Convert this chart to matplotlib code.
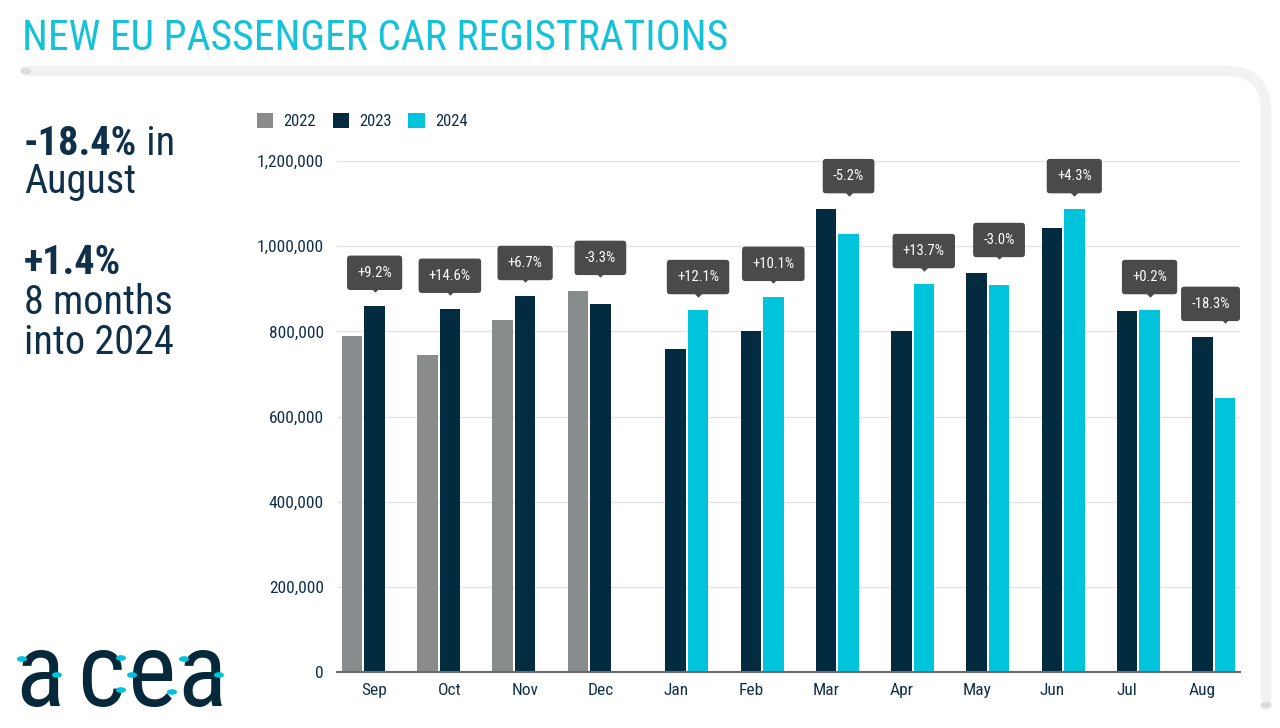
import numpy as np
import matplotlib
matplotlib.use("Agg")
import matplotlib.pyplot as plt
from matplotlib import font_manager
from matplotlib.patches import Patch, PathPatch, Circle
from matplotlib.path import Path
from matplotlib.transforms import offset_copy

# chart data
months = ['Sep', 'Oct', 'Nov', 'Dec', 'Jan', 'Feb', 'Mar', 'Apr', 'May', 'Jun', 'Jul', 'Aug']
reg_2022 = [789000, 744000, 827000, 895000] + [np.nan] * 8
reg_2023 = [860000, 853000, 883000, 864000, 759000, 801000,
            1087000, 801000, 937000, 1043000, 848000, 787000]
reg_2024 = [np.nan] * 4 + [850000, 881000, 1029000, 911000, 909000, 1087000, 850000, 643000]
changes = ['+9.2%', '+14.6%', '+6.7%', '-3.3%', '+12.1%', '+10.1%',
           '-5.2%', '+13.7%', '-3.0%', '+4.3%', '+0.2%', '-18.3%']
yticks = [0, 200000, 400000, 600000, 800000, 1000000, 1200000]
years = ['2022', '2023', '2024']

# colours
GREY = '#898c8d'
NAVY = '#022b3f'
CYAN = '#00c4dc'
TEXT = '#10304a'
BOX = '#4a4a4a'

_names = {f.name for f in font_manager.fontManager.ttflist}
FONT = 'Roboto Condensed' if 'Roboto Condensed' in _names else 'Roboto'
plt.rcParams['font.family'] = [FONT, 'DejaVu Sans']

W, H = 1280, 728
fig = plt.figure(figsize=(W / 100, H / 100), dpi=100)


def fx(px):
    return px / W


def fy(py):
    return 1 - py / H


# frame decoration
verts = [(fx(26), fy(71)), (fx(1226), fy(71)), (fx(1266), fy(71)), (fx(1266), fy(111)), (fx(1266), fy(705))]
codes = [Path.MOVETO, Path.LINETO, Path.CURVE3, Path.CURVE3, Path.LINETO]
fig.patches.append(PathPatch(Path(verts, codes), transform=fig.transFigure, fill=False,
                             ec='#f2f2f2', lw=7.5, capstyle='round', zorder=0))
for (px, py) in [(26, 71), (1266, 705)]:
    fig.patches.append(Circle((fx(px), fy(py)), 5.5 / W, transform=fig.transFigure,
                              fc='#dcdcdc', ec='none', zorder=1))

# title
fig.text(fx(22), fy(50), 'NEW EU PASSENGER CAR REGISTRATIONS', color='#14c2da',
         fontsize=30, fontweight='normal', ha='left', va='baseline')

# left side key figures
KF = 29
t = fig.text(fx(24), fy(155), '-18.4%', color=TEXT, fontsize=KF, fontweight='bold', va='baseline')
fig.canvas.draw()
x_end = t.get_window_extent().x1
fig.text(x_end / W, fy(155), ' in', color=TEXT, fontsize=KF, va='baseline')
fig.text(fx(24), fy(193), 'August', color=TEXT, fontsize=KF, va='baseline')
fig.text(fx(24), fy(274), '+1.4%', color=TEXT, fontsize=KF, fontweight='bold', va='baseline')
fig.text(fx(24), fy(314), '8 months', color=TEXT, fontsize=KF, va='baseline')
fig.text(fx(24), fy(354), 'into 2024', color=TEXT, fontsize=KF, va='baseline')

# logo
for ch, cx in zip('acea', [40, 101, 152, 202]):
    fig.text(fx(cx), fy(727), ch, color='#06283b', fontsize=74, fontweight='normal',
             ha='center', va='bottom')
dots = [(22, 659), (57, 675), (121, 658), (121, 690), (132, 675), (172, 692), (184, 659), (219, 675)]
for (px, py) in dots:
    fig.patches.append(Circle((fx(px), fy(py)), 5 / W, transform=fig.transFigure,
                              fc=CYAN, ec='none', zorder=5))

# chart
ax = fig.add_axes([fx(337), fy(672), fx(1240) - fx(337), fy(161) - fy(672)])
x = np.arange(len(months))
slot = 0.298
bw = 0.272
ax.bar(x - slot, reg_2022, bw, color=GREY, zorder=3)
ax.bar(x, reg_2023, bw, color=NAVY, zorder=3)
ax.bar(x + slot, reg_2024, bw, color=CYAN, zorder=3)

ax.set_xlim(-0.5, 11.5)
ax.set_ylim(0, 1200000)
ax.set_yticks(yticks)
ax.set_yticklabels([f'{v:,}' for v in yticks])
ax.set_xticks(x)
ax.set_xticklabels(months)
ax.tick_params(axis='both', length=0, labelsize=12.5, labelcolor=TEXT)
ax.tick_params(axis='y', pad=9.5)
ax.tick_params(axis='x', pad=8)
ax.grid(axis='y', color='#e4e4e4', lw=1, zorder=0)
ax.set_axisbelow(True)
for s in ['top', 'right', 'left']:
    ax.spines[s].set_visible(False)
ax.spines['bottom'].set_color('#6b6b6b')
ax.spines['bottom'].set_linewidth(1.5)
ax.spines['bottom'].set_zorder(4)

# change labels
tri = [(-1, 0), (1, 0), (0, -1), (-1, 0)]
notes = []
for i, lab in enumerate(changes):
    xpos = x[i] + slot if not np.isnan(reg_2024[i]) else x[i]
    top = np.nanmax([reg_2022[i], reg_2023[i], reg_2024[i]])
    tr = offset_copy(ax.transData, fig=fig, x=0, y=18.5, units='dots')
    ax.plot([xpos], [top], marker=tri, ms=7.5, color=BOX, mec='none', transform=tr, clip_on=False, zorder=6)
    a = ax.annotate(lab, xy=(xpos, top), xytext=(0, 33), textcoords='offset pixels',
                    ha='center', va='center', fontsize=10.5, color='white', zorder=7,
                    bbox=dict(boxstyle='round,pad=0.7,rounding_size=0.22', fc=BOX, ec='none'))
    notes.append(a)

fig.canvas.draw()
right = ax.get_window_extent().x1
for a in notes:
    bb = a.get_bbox_patch().get_window_extent()
    if bb.x1 > right:
        a.set_position((-(bb.x1 - right), 33))

# legend
handles = [Patch(fc=c, ec='none') for c in [GREY, NAVY, CYAN]]
leg = fig.legend(handles, years, loc='center left', bbox_to_anchor=(fx(250), fy(121)), ncol=3,
                 frameon=False, handlelength=1.0, handleheight=1.0, handletextpad=0.6,
                 columnspacing=1.0, fontsize=12, borderaxespad=0)
for txt in leg.get_texts():
    txt.set_color(TEXT)

fig.savefig('out.png', dpi=100)
